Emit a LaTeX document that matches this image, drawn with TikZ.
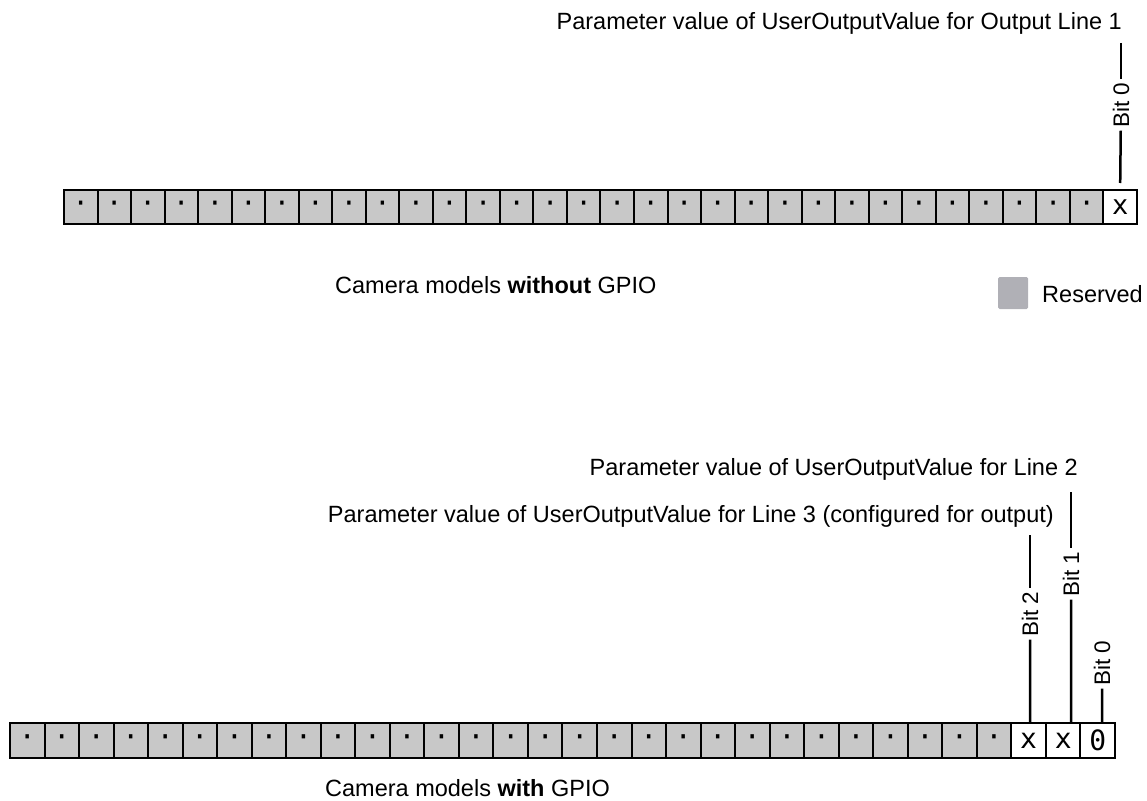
\documentclass[tikz,border=0pt]{standalone}
\usepackage{fontspec}
\setmainfont{Liberation Sans}
\newfontfamily\cellfont{DejaVu Sans Mono}
\begin{document}
\begin{tikzpicture}[x=1pt,y=-1pt,
  txt/.style={font=\fontsize{23.5}{28}\selectfont, inner sep=0pt},
  bitlbl/.style={font=\fontsize{22.5}{27}\selectfont, rotate=90, inner sep=3pt},
  topcell/.style={draw, line width=2pt, minimum width=33.53pt, minimum height=34pt, inner sep=0pt, font=\cellfont\fontsize{27}{30}\selectfont},
  botcell/.style={draw, line width=2pt, minimum width=34.53pt, minimum height=35pt, inner sep=0pt, font=\cellfont\fontsize{28}{30}\selectfont},
  resv/.style={fill=cellgray},
  free/.style={fill=white},
  leader/.style={line width=2.5pt}]
\definecolor{cellgray}{RGB}{200,200,200}
\definecolor{legendgray}{RGB}{176,176,182}
\useasboundingbox (0,0) rectangle (1147,800);

% ---------- top row: camera models without GPIO ----------
\foreach \k in {0,...,30}{
  \pgfmathtruncatemacro{\b}{31-\k}
  \node[topcell,resv] (t\b) at ({64+33.53*\k+16.765},207) {·};
}
\node[topcell,free] (t0) at ({64+33.53*31+16.765},207) {x};

\node[txt,anchor=base east] (ttxt) at (1122,30) {Parameter value of UserOutputValue for Output Line 1};
\coordinate (t0top) at (1121,43);
\node[bitlbl] (lt0) at (1121,105) {Bit 0};
\draw[leader] (t0top) -- (lt0);
\draw[leader] (lt0) -- ([yshift=6pt]t0.north);

\node[txt,anchor=base west] (cap1) at (335,293) {Camera models \textbf{without} GPIO};

% legend
\node[fill=legendgray, rounded corners=1.5pt, minimum width=30pt, minimum height=32pt, inner sep=0pt] (leg) at (1013,293) {};
\node[txt,anchor=base west] (legtxt) at (1042,302) {Reserved};

% ---------- bottom row: camera models with GPIO ----------
\foreach \k in {0,...,28}{
  \pgfmathtruncatemacro{\b}{31-\k}
  \node[botcell,resv] (b\b) at ({10+34.53*\k+17.265},740.5) {·};
}
\node[botcell,free] (b2) at ({10+34.53*29+17.265},740.5) {x};
\node[botcell,free] (b1) at ({10+34.53*30+17.265},740.5) {x};
\node[botcell,free] (b0) at ({10+34.53*31+17.265},740.5) {0};

\node[txt,anchor=base east] (l2txt) at (1078,475) {Parameter value of UserOutputValue for Line 2};
\node[txt,anchor=base east] (l3txt) at (1054,522) {Parameter value of UserOutputValue for Line 3 (configured for output)};

\coordinate (b1top) at (1071,492);
\node[bitlbl] (lb1) at (1071,574) {Bit 1};
\draw[leader] (b1top) -- (lb1);
\draw[leader] (lb1) -- ([xshift=8pt]b1.north);

\coordinate (b2top) at (1030,535);
\node[bitlbl] (lb2) at (1030,614) {Bit 2};
\draw[leader] (b2top) -- (lb2);
\draw[leader] (lb2) -- ([xshift=1.4pt]b2.north);

\node[bitlbl] (lb0) at (1102,663) {Bit 0};
\draw[leader] (lb0) -- ([xshift=4.4pt]b0.north);

\node[txt,anchor=base west] (cap2) at (325,796) {Camera models \textbf{with} GPIO};
\end{tikzpicture}
\end{document}
